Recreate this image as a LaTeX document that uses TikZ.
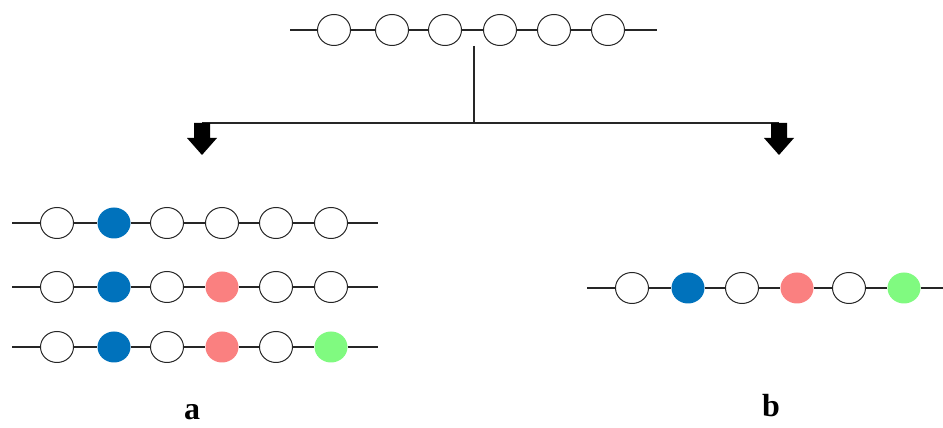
\documentclass[tikz,border=0pt]{standalone}
\usepackage{fontspec}
\setmainfont{Liberation Serif}
\usetikzlibrary{shapes.geometric}
\definecolor{beadblue}{RGB}{0,114,188}
\definecolor{beadpink}{RGB}{250,128,128}
\definecolor{beadgreen}{RGB}{128,250,128}
\begin{document}
\begin{tikzpicture}[x=1pt,y=1pt,
  beadbase/.style={ellipse, inner sep=0pt, minimum width=33pt, minimum height=31pt},
  bead w/.style={beadbase, draw=black!85, line width=1pt, fill=white},
  bead b/.style={beadbase, fill=beadblue},
  bead p/.style={beadbase, fill=beadpink},
  bead g/.style={beadbase, fill=beadgreen},
  strand/.style={draw=black!85, line width=1.1pt},
  bigarrow/.style={fill=black},
  caption/.style={font=\bfseries\fontsize{32}{32}\selectfont, anchor=base, inner sep=0pt}]
\useasboundingbox (0,0) rectangle (943,428);

% parent chain at the top
\foreach \x [count=\i] in {334,392,445,500,554,608}
  \node[bead w] (t\i) at (\x,398) {};
\coordinate (t0) at (290,398);
\coordinate (t7) at (657,398);
\foreach \i [evaluate=\i as \j using int(\i+1)] in {0,...,6}
  \draw[strand] (t\i) -- (t\j);

% branching connector
\coordinate (stem) at (474,382);
\coordinate (fork) at (474,305);
\coordinate (la) at (202,305);
\coordinate (ra) at (779,305);
\draw[strand] (stem) -- (fork);
\draw[strand] (la) -- (ra);

% block arrows
\foreach \c in {la,ra}
  \fill[bigarrow, shift={(\c)}] (-8,0) -- (8,0) -- (8,-15) -- (15,-15)
    -- (0,-32) -- (-15,-15) -- (-8,-15) -- cycle;

% branch a: three chains
\foreach \r/\y/\styles in {1/205/{w,b,w,w,w,w}, 2/141/{w,b,w,p,w,w}, 3/81/{w,b,w,p,w,g}} {
  \foreach \s [count=\i] in \styles {
    \pgfmathsetmacro\xx{{57,114,167,222,276,331}[\i-1]}
    \node[bead \s] (a\r-\i) at (\xx,\y) {};
  }
  \coordinate (a\r-0) at (12,\y);
  \coordinate (a\r-7) at (378,\y);
  \foreach \i [evaluate=\i as \j using int(\i+1)] in {0,...,6}
    \draw[strand] (a\r-\i) -- (a\r-\j);
}

% branch b: one chain
\foreach \s/\x [count=\i] in {w/632,b/688,w/742,p/797,w/849,g/904}
  \node[bead \s] (b\i) at (\x,140) {};
\coordinate (b0) at (587,140);
\coordinate (b7) at (943,140);
\foreach \i [evaluate=\i as \j using int(\i+1)] in {0,...,6}
  \draw[strand] (b\i) -- (b\j);

% captions
\node[caption] (capa) at (192,8) {a};
\node[caption] (capb) at (771,11) {b};
\end{tikzpicture}
\end{document}
